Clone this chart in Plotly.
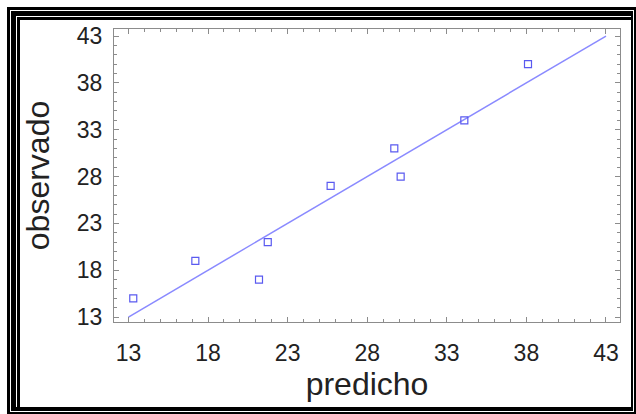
import plotly.graph_objects as go

# Data
predicho = [13.3, 17.2, 21.2, 21.75, 25.7, 29.7, 30.1, 34.1, 38.1]
observado = [15, 19, 17, 21, 27, 31, 28, 34, 40]
linea_x = [13, 43]
linea_y = [13, 43]
tick_vals = [13, 18, 23, 28, 33, 38, 43]

W, H = 636, 414
L, R, T, B = 114, 16, 29, 92
PW, PH = W - L - R, H - T - B


def px(x):
    return (x - L) / PW


def py(y):
    return 1 - (y - T) / PH


def rect(x0, y0, x1, y1, color):
    return dict(type="rect", xref="paper", yref="paper", layer="below",
                x0=px(x0), x1=px(x1), y0=py(y1), y1=py(y0),
                fillcolor=color, line=dict(width=0))


shapes = [
    rect(7, 7, 636, 414, "black"),
    rect(10, 10, 634, 412, "white"),
    rect(11, 11, 633, 411, "black"),
    rect(16, 16, 631, 407, "white"),
    rect(17, 17, 631, 407, "black"),
    rect(20, 20, 631, 407, "white"),
]

FONT = "Liberation Sans, Arial, sans-serif"

fig = go.Figure()
fig.add_trace(go.Scatter(x=linea_x, y=linea_y, mode="lines",
                         line=dict(color="#8a8aff", width=1.5),
                         showlegend=False, hoverinfo="skip"))
fig.add_trace(go.Scatter(x=predicho, y=observado, mode="markers",
                         marker=dict(symbol="square-open", size=7,
                                     color="#5a5af0", line=dict(width=1.2)),
                         showlegend=False))

axis_common = dict(
    showgrid=False, zeroline=False,
    showline=True, linecolor="#8c8c8c", linewidth=1, mirror="ticks",
    ticks="inside", ticklen=5, tickwidth=1, tickcolor="#8c8c8c",
    tickvals=tick_vals,
    minor=dict(dtick=1, tick0=13, ticks="inside", ticklen=3,
               tickcolor="#8c8c8c", tickwidth=1, showgrid=False),
    tickfont=dict(family=FONT, size=23, color="#222"),
)

fig.update_xaxes(range=[12.09, 43.88], ticklabelstandoff=10,
                 title=dict(text="predicho", standoff=4,
                            font=dict(family=FONT, size=32, color="#222")),
                 **axis_common)
fig.update_yaxes(range=[12.47, 43.75], ticklabelstandoff=6,
                 title=dict(text="observado", standoff=17,
                            font=dict(family=FONT, size=32, color="#222")),
                 **axis_common)

fig.update_layout(width=W, height=H, margin=dict(l=L, r=R, t=T, b=B, autoexpand=False),
                  paper_bgcolor="white", plot_bgcolor="rgba(0,0,0,0)",
                  shapes=shapes)

fig.write_html("out.html", config={"displayModeBar": False},
               post_script="document.body.style.margin='0';")
